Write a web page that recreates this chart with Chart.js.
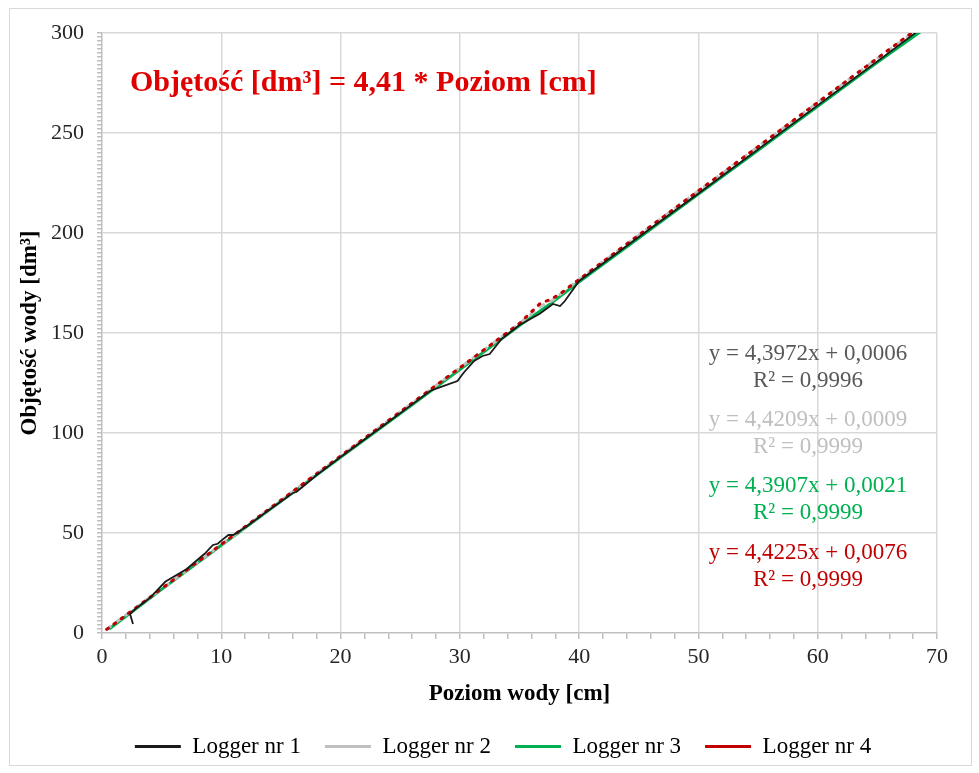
<!DOCTYPE html>
<html>
<head>
<meta charset="utf-8">
<script src="https://cdn.jsdelivr.net/npm/chart.js@4.4.1/dist/chart.umd.min.js"></script>
<style>
  html, body { margin: 0; padding: 0; background: #fff; }
  #wrap { width: 979px; height: 773px; position: relative; }
</style>
</head>
<body>
<div id="wrap"><canvas id="chart" width="979" height="773"></canvas></div>
<script>
// values
const logger1X = [2.6, 2.35, 2.8, 4, 5.3, 7.1, 8.6, 9.3, 9.7, 10.1, 10.6, 11.0, 12, 14, 16, 16.3, 16.8, 18, 20, 22, 24, 26, 27.5, 28.6, 29.8, 30.3, 31.2, 31.9, 32.5, 33.5, 35, 36.7, 37.8, 38.4, 38.8, 40, 45, 50, 55, 60, 65, 68.4];
const logger1Y = [4.5, 9.5, 12, 17.5, 25.6, 32, 39.6, 44, 44.6, 46.7, 49, 49, 52.8, 61.5, 70, 70.5, 73, 79, 88, 96.7, 105.5, 114.3, 121, 123.4, 126, 130, 136, 138.5, 139.5, 147, 154, 159.6, 164.5, 163.5, 166, 176, 198, 219.8, 241.8, 263.8, 285.8, 301];

const logger2X = [0.3, 5, 10, 15, 20, 25, 30, 35, 36.8, 37.8, 40, 45, 50, 55, 60, 65, 68.2];
const logger2Y = [1.5, 22.1, 44.2, 66.3, 88.4, 110.5, 132.6, 154.7, 163.5, 166.5, 176.8, 198.9, 221, 243.1, 265.2, 287.3, 301];

const logger3X = [0.6, 5, 10, 15, 20, 25, 30, 35, 37.5, 40, 45, 50, 55, 60, 65, 68.7];
const logger3Y = [2, 21.8, 43.9, 65.8, 87.8, 109.7, 131.7, 153.7, 164.2, 175.6, 197.5, 219.5, 241.4, 263.4, 285.4, 301];

const logger4X = [0.4, 5, 10, 15, 20, 25, 30, 35, 36.7, 37.8, 38.5, 40, 45, 50, 55, 60, 65, 68.2];
const logger4Y = [1.8, 22.2, 44.3, 66.4, 88.5, 110.6, 132.6, 154.8, 164.6, 167.4, 170, 176.8, 199, 221.1, 243.2, 265.3, 287.4, 301.5];

const seriesNames = ['Logger nr 1', 'Logger nr 2', 'Logger nr 3', 'Logger nr 4'];
const seriesColors = ['#1a1a1a', '#bfbfbf', '#00b050', '#c00000'];

const equations = [
  ['y = 4,3972x + 0,0006', 'R² = 0,9996'],
  ['y = 4,4209x + 0,0009', 'R² = 0,9999'],
  ['y = 4,3907x + 0,0021', 'R² = 0,9999'],
  ['y = 4,4225x + 0,0076', 'R² = 0,9999']
];
const equationColors = ['#595959', '#bfbfbf', '#00b050', '#c00000'];
const formulaText = 'Objętość [dm³] = 4,41 * Poziom [cm]';

const serif = "'Liberation Serif', 'Times New Roman', serif";

function toPoints(xs, ys) {
  return xs.map((x, i) => ({ x: x, y: ys[i] }));
}

const textPlugin = {
  id: 'texts',
  beforeDraw(chart) {
    const ctx = chart.ctx;
    ctx.save();
    ctx.strokeStyle = '#d9d9d9';
    ctx.lineWidth = 1;
    ctx.strokeRect(9.5, 8.5, 962, 757);
    ctx.restore();
  },
  afterDraw(chart) {
    const ctx = chart.ctx;
    const area = chart.chartArea;
    ctx.save();
    ctx.font = 'bold 30px ' + serif;
    ctx.fillStyle = '#e00000';
    ctx.textAlign = 'left';
    ctx.textBaseline = 'middle';
    ctx.fillText(formulaText, area.left + 28, area.top + 50);

    ctx.font = '23px ' + serif;
    ctx.textAlign = 'center';
    const cx = area.left + 706;
    const starts = [area.top + 321, area.top + 387, area.top + 453, area.top + 520];
    equations.forEach((eq, i) => {
      ctx.fillStyle = equationColors[i];
      ctx.fillText(eq[0], cx, starts[i]);
      ctx.fillText(eq[1], cx, starts[i] + 27);
    });
    ctx.restore();
  }
};

const ctx = document.getElementById('chart').getContext('2d');
new Chart(ctx, {
  type: 'scatter',
  data: {
    datasets: [
      {
        label: seriesNames[0],
        data: toPoints(logger1X, logger1Y),
        borderColor: seriesColors[0],
        borderWidth: 1.8,
        order: 0
      },
      {
        label: seriesNames[1],
        data: toPoints(logger2X, logger2Y),
        borderColor: seriesColors[1],
        borderWidth: 3,
        borderDash: [7, 5],
        order: 2
      },
      {
        label: seriesNames[2],
        data: toPoints(logger3X, logger3Y),
        borderColor: seriesColors[2],
        borderWidth: 3,
        order: 3
      },
      {
        label: seriesNames[3],
        data: toPoints(logger4X, logger4Y),
        borderColor: seriesColors[3],
        borderWidth: 3,
        borderDash: [2, 7],
        borderCapStyle: 'round',
        order: 1
      }
    ]
  },
  options: {
    responsive: false,
    animation: false,
    showLine: true,
    elements: { point: { radius: 0, hoverRadius: 0 }, line: { tension: 0 } },
    layout: { padding: { left: 27, right: 0, top: 33, bottom: 5 } },
    scales: {
      x: {
        type: 'linear',
        min: 0,
        max: 70,
        border: { color: '#bfbfbf', width: 1.5 },
        grid: {
          color: c => (c.tick && c.tick.value % 10 === 0 && c.tick.value !== 0) ? '#d9d9d9' : 'rgba(0,0,0,0)',
          lineWidth: 1.5,
          tickColor: '#bfbfbf',
          tickLength: 6,
          drawTicks: true
        },
        ticks: {
          stepSize: 2,
          autoSkip: false,
          maxRotation: 0,
          color: '#262626',
          font: { family: serif, size: 22, lineHeight: 1 },
          padding: 7,
          callback: v => (v % 10 === 0 ? String(v) : '')
        },
        title: {
          display: true,
          text: 'Poziom wody [cm]',
          color: '#000',
          font: { family: serif, size: 23, weight: 'bold', lineHeight: 1 },
          padding: { top: 8, bottom: 5 }
        }
      },
      y: {
        type: 'linear',
        min: 0,
        max: 300,
        afterFit: scale => { scale.width = 75; },
        border: { color: '#bfbfbf', width: 1.5 },
        grid: {
          color: c => (c.tick && c.tick.value % 50 === 0 && c.tick.value !== 0) ? '#d9d9d9' : 'rgba(0,0,0,0)',
          lineWidth: 1.5,
          tickColor: '#bfbfbf',
          tickLength: 5,
          drawTicks: true
        },
        ticks: {
          stepSize: 2,
          autoSkip: false,
          color: '#262626',
          font: { family: serif, size: 22, lineHeight: 1 },
          padding: 13,
          callback: v => (v % 50 === 0 ? String(v) : '')
        },
        title: {
          display: true,
          text: 'Objętość wody [dm³]',
          color: '#000',
          font: { family: serif, size: 23, weight: 'bold', lineHeight: 1 },
          padding: { top: -8, bottom: 6 }
        }
      },
      yRight: {
        type: 'linear',
        position: 'right',
        min: 0,
        max: 300,
        afterFit: scale => { scale.width = 42; },
        border: { display: false },
        grid: { display: false },
        ticks: { display: false }
      }
    },
    plugins: {
      tooltip: { enabled: false },
      legend: {
        position: 'bottom',
        labels: {
          color: '#000',
          font: { family: serif, size: 23 },
          boxWidth: 46,
          boxHeight: 3,
          padding: 24,
          generateLabels: chart => chart.data.datasets.map((ds, i) => ({
            text: ds.label,
            fillStyle: ds.borderColor,
            strokeStyle: ds.borderColor,
            lineWidth: 0,
            fontColor: '#000',
            datasetIndex: i,
            hidden: false
          }))
        }
      }
    }
  },
  plugins: [textPlugin]
});
</script>
</body>
</html>
